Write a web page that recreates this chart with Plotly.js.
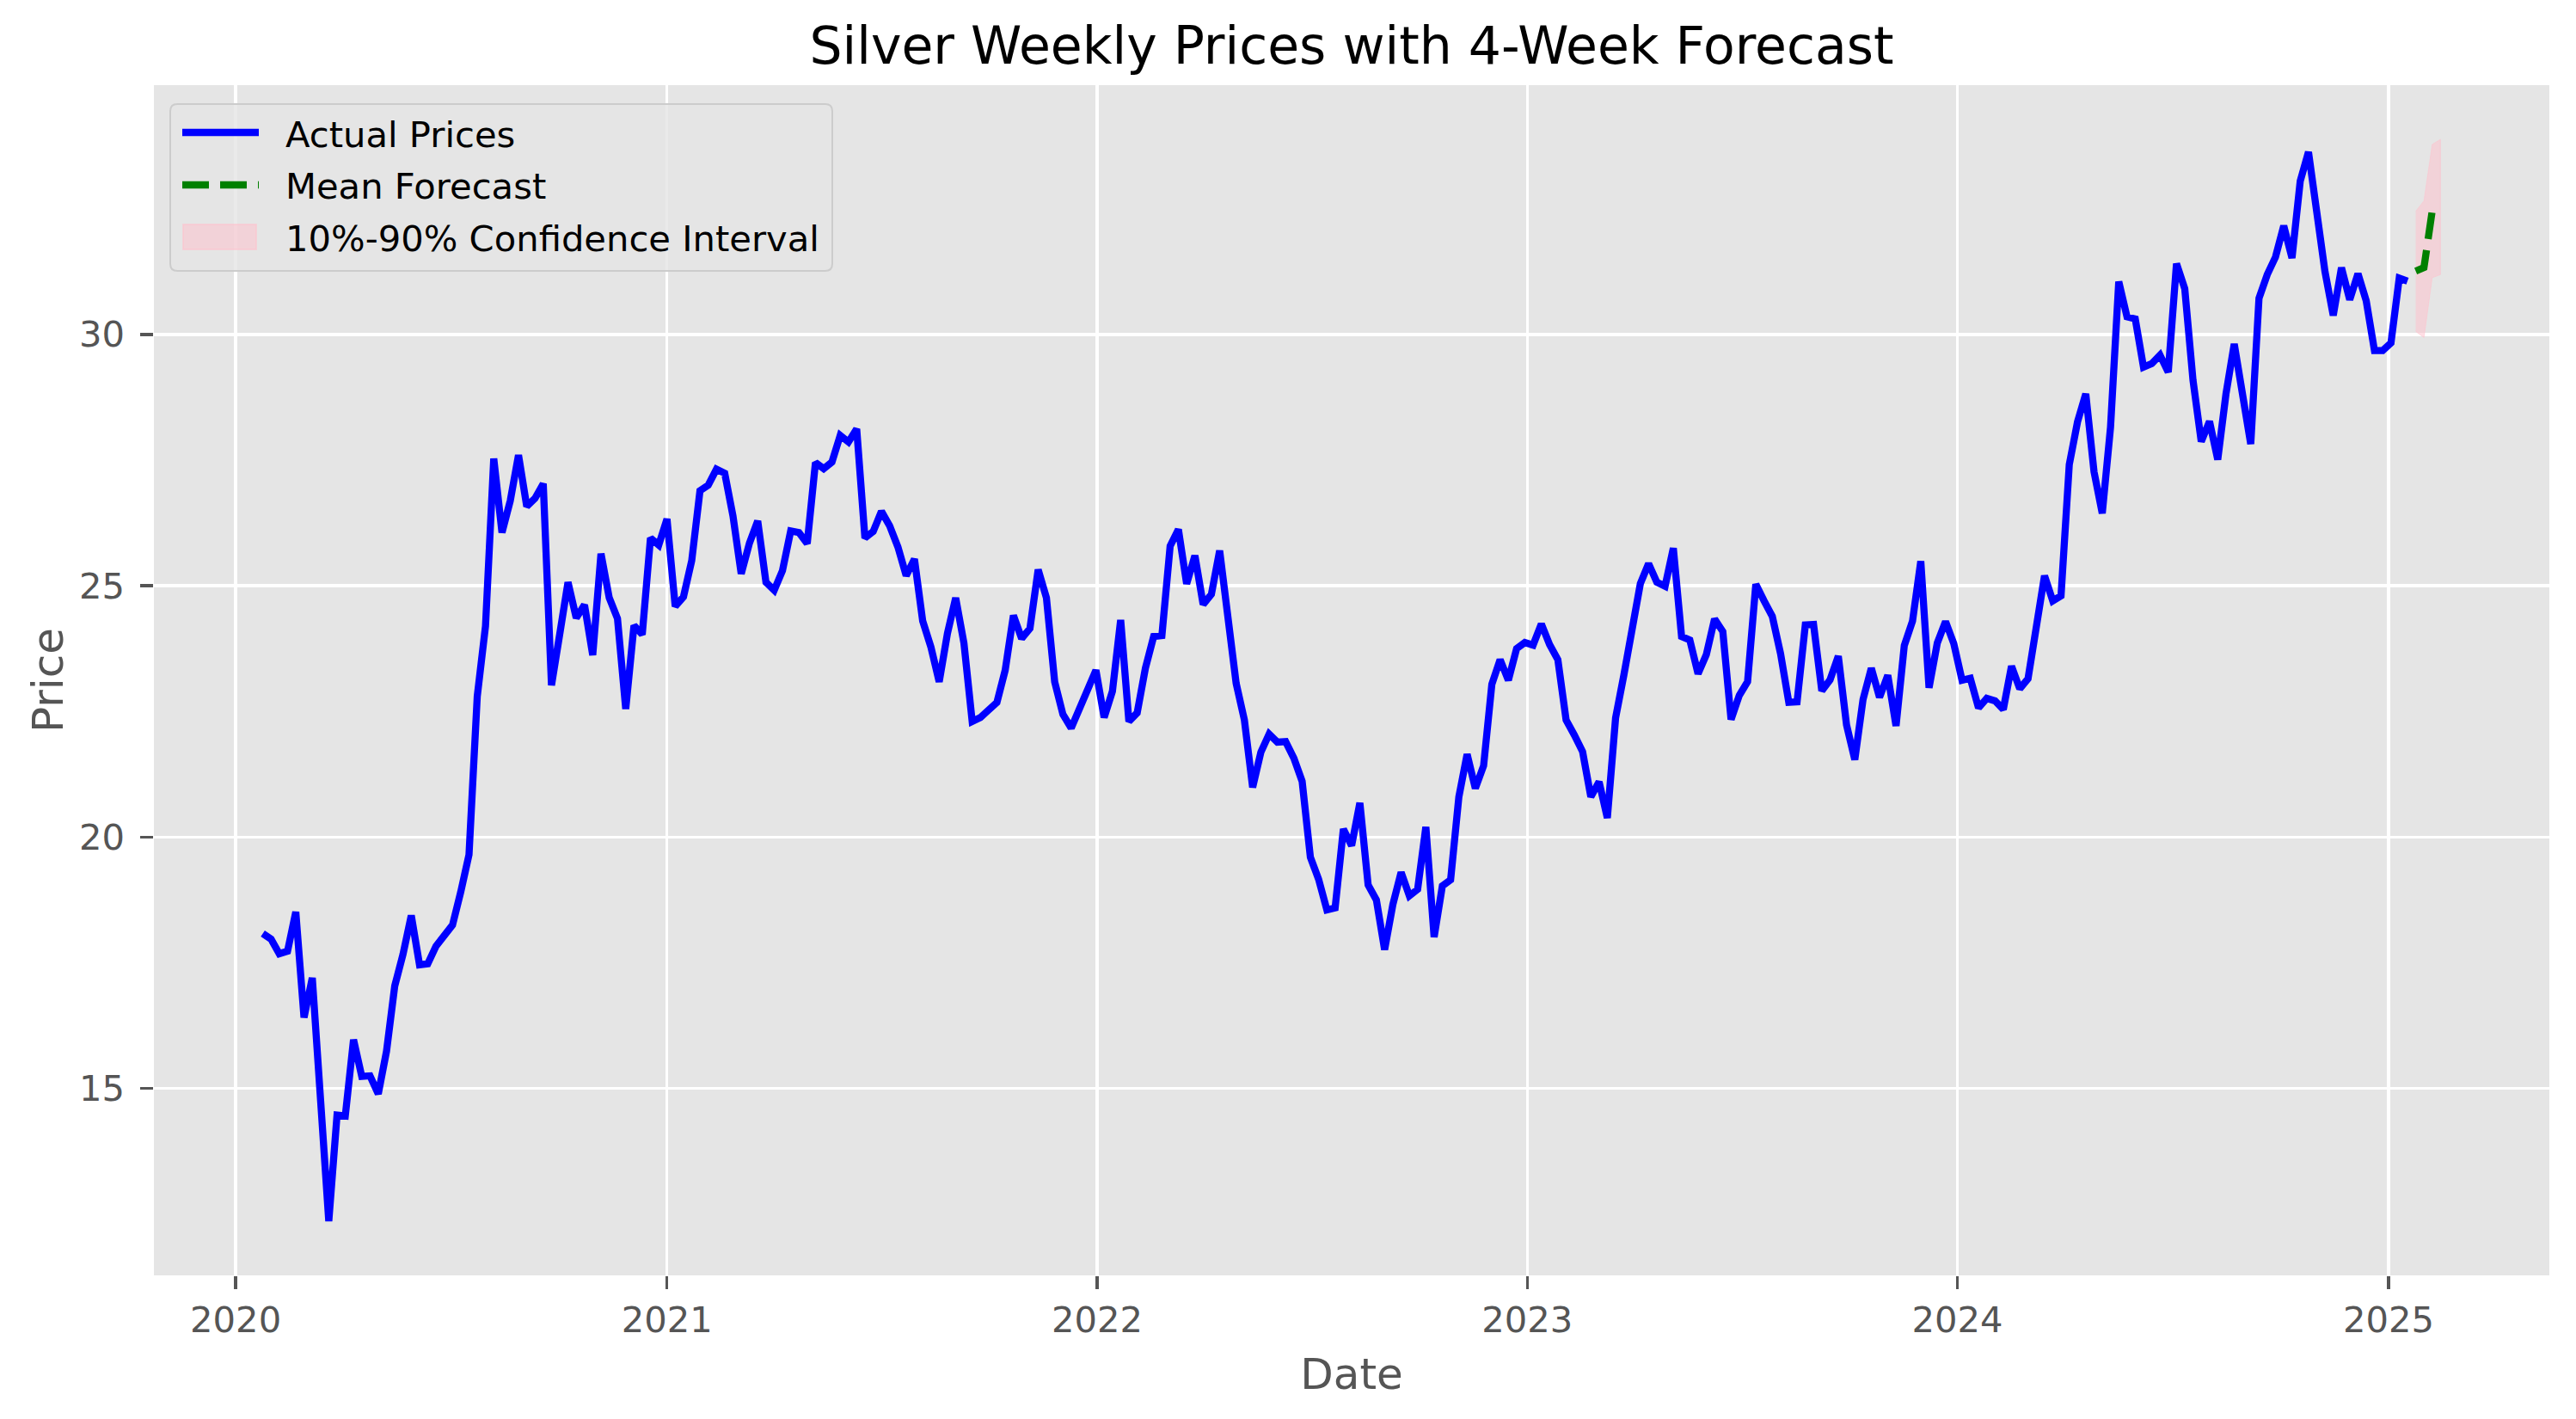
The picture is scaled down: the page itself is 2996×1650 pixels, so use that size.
<!DOCTYPE html>
<html>
<head>
<meta charset="utf-8">
<script src="https://cdn.plot.ly/plotly-3.0.1.min.js"></script>
<style>html,body{margin:0;padding:0;background:#fff;}#chart{width:2996px;height:1650px;}</style>
</head>
<body>
<div id="chart"></div>
<script>
// ---- data ----
const firstWeek = "2020-01-24"; // first weekly observation (Fridays)
const actualPrices = [
18.08,17.97,17.68,17.73,18.51,16.41,17.20,14.50,12.36,14.47,
14.45,15.97,15.24,15.25,14.89,15.74,17.04,17.67,18.44,17.46,
17.48,17.83,18.03,18.25,18.91,19.65,22.80,24.20,27.53,26.06,
26.69,27.60,26.58,26.74,27.03,23.02,24.04,25.07,24.36,24.62,
23.62,25.64,24.76,24.35,22.55,24.21,24.03,25.95,25.81,26.33,
24.59,24.78,25.50,26.89,27.00,27.32,27.24,26.39,25.24,25.85,
26.29,25.07,24.91,25.30,26.09,26.06,25.84,27.45,27.33,27.46,
27.99,27.86,28.12,25.95,26.08,26.48,26.19,25.77,25.20,25.53,
24.30,23.78,23.09,24.05,24.76,23.86,22.30,22.38,22.53,22.68,
23.32,24.41,23.95,24.15,25.32,24.76,23.09,22.44,22.17,22.55,
22.95,23.32,22.38,22.90,24.32,22.30,22.47,23.36,23.99,24.01,
25.79,26.12,25.04,25.60,24.63,24.83,25.70,24.25,23.06,22.33,
20.99,21.69,22.05,21.89,21.90,21.57,21.11,19.60,19.16,18.55,
18.59,20.16,19.83,20.68,19.05,18.75,17.76,18.66,19.30,18.83,
18.96,20.20,18.01,19.03,19.15,20.80,21.65,20.97,21.42,23.04,
23.53,23.12,23.75,23.87,23.82,24.24,23.83,23.53,22.33,22.03,
21.70,20.80,21.10,20.38,22.37,23.22,24.16,25.04,25.44,25.07,
24.99,25.75,23.99,23.92,23.25,23.63,24.34,24.09,22.34,22.82,
23.09,25.03,24.70,24.39,23.65,22.68,22.69,24.22,24.23,22.91,
23.13,23.60,22.23,21.54,22.74,23.36,22.78,23.22,22.21,23.81,
24.30,25.49,22.97,23.86,24.29,23.85,23.12,23.16,22.57,22.76,
22.71,22.54,23.40,22.95,23.15,24.30,25.20,24.70,24.80,27.41,
28.26,28.82,27.27,26.44,28.15,31.05,30.35,30.31,29.35,29.42,
29.59,29.25,31.41,30.91,29.09,27.87,28.27,27.51,28.82,29.81,
28.82,27.82,30.72,31.19,31.54,32.16,31.52,33.05,33.63,32.35,
31.25,30.38,31.33,30.69,31.21,30.67,29.68,29.68,29.83,31.12,
31.06
];
const forecastDates = ["2025-01-24","2025-01-31","2025-02-07","2025-02-14"];
const forecastMean  = [31.26, 31.33, 32.46, 32.54];
const forecastLow   = [30.06, 29.94, 31.13, 31.19];
const forecastHigh  = [32.45, 32.66, 33.78, 33.88];
const xTickVals  = ["2020-01-01","2021-01-01","2022-01-01","2023-01-01","2024-01-01","2025-01-01"];
const xTickText  = ["2020","2021","2022","2023","2024","2025"];
const yTickVals  = [15, 20, 25, 30];
const titleText  = "Silver Weekly Prices with 4-Week Forecast";
const legendLabels = ["Actual Prices", "Mean Forecast", "10%-90% Confidence Interval"];

// weekly date axis for the actual series
function weeklyDates(start, n) {
  const out = [];
  const d0 = new Date(start + "T00:00:00Z");
  for (let i = 0; i < n; i++) {
    const d = new Date(d0.getTime() + i * 7 * 86400000);
    out.push(d.toISOString().slice(0, 10));
  }
  return out;
}
const actualDates = weeklyDates(firstWeek, actualPrices.length);

const FONT = "DejaVu Sans, Liberation Sans, sans-serif";
const BLUE = "#0000FF", GREEN = "#008000", PINK = "rgba(255,192,203,0.5)";
const LW = 8.3, DASH = "31px,13px";

const traces = [
  {
    x: actualDates, y: actualPrices, type: "scatter", mode: "lines",
    name: legendLabels[0], showlegend: false,
    line: {color: BLUE, width: LW}
  },
  {
    x: forecastDates.concat(forecastDates.slice().reverse()),
    y: forecastHigh.concat(forecastLow.slice().reverse()),
    type: "scatter", mode: "lines", fill: "toself",
    fillcolor: PINK, line: {color: PINK, width: 1},
    name: legendLabels[2], showlegend: false
  },
  {
    x: forecastDates, y: forecastMean, type: "scatter", mode: "lines",
    name: legendLabels[1], showlegend: false,
    line: {color: GREEN, width: LW, dash: DASH}
  }
];

// ---- legend (drawn in paper coordinates, like matplotlib's upper-left legend) ----
const PL = 179, PR = 2965, PT = 99, PB = 1483;
const px = X => (X - PL) / (PR - PL);
const py = Y => 1 - (Y - PT) / (PB - PT);
function roundRect(x0, y0, x1, y1, r) {
  const rx = r / (PR - PL), ry = r / (PB - PT);
  const a = px(x0), b = px(x1), t = py(y0), u = py(y1);
  return `M${a+rx},${t} L${b-rx},${t} Q${b},${t} ${b},${t-ry} L${b},${u+ry} Q${b},${u} ${b-rx},${u} ` +
         `L${a+rx},${u} Q${a},${u} ${a},${u+ry} L${a},${t-ry} Q${a},${t} ${a+rx},${t} Z`;
}
const rowY = [154, 215, 275.5];
const shapes = [
  {type: "path", xref: "paper", yref: "paper", path: roundRect(198, 121, 968, 315, 8.3),
   fillcolor: "rgba(229,229,229,0.8)", line: {color: "#CCCCCC", width: 2}, layer: "above"},
  {type: "line", xref: "paper", yref: "paper", x0: px(212), x1: px(301), y0: py(rowY[0]), y1: py(rowY[0]),
   line: {color: BLUE, width: LW}, layer: "above"},
  {type: "line", xref: "paper", yref: "paper", x0: px(212), x1: px(301), y0: py(rowY[1]), y1: py(rowY[1]),
   line: {color: GREEN, width: LW, dash: DASH}, layer: "above"},
  {type: "rect", xref: "paper", yref: "paper", x0: px(213), x1: px(298), y0: py(261), y1: py(290),
   fillcolor: PINK, line: {color: PINK, width: 2}, layer: "above"}
];
const annotations = legendLabels.map((t, i) => ({
  text: t, xref: "paper", yref: "paper", x: px(330), y: py(rowY[i] + 2),
  xanchor: "left", yanchor: "middle", showarrow: false,
  font: {family: FONT, size: 41.7, color: "#000000"}
}));

const layout = {
  width: 2996, height: 1650,
  paper_bgcolor: "#FFFFFF",
  plot_bgcolor: "#E5E5E5",
  margin: {l: PL, r: 2996 - PR, t: PT, b: 1650 - PB, pad: 0},
  font: {family: FONT, size: 41.7, color: "#555555"},
  showlegend: false,
  title: {
    text: titleText,
    font: {family: FONT, size: 60, color: "#000000"},
    x: 0.5, xref: "paper", xanchor: "center",
    y: 1 - 53/1650, yref: "container", yanchor: "middle"
  },
  xaxis: {
    type: "date",
    range: ["2019-10-23 14:24", "2025-05-17 09:36"],
    tickmode: "array", tickvals: xTickVals, ticktext: xTickText,
    showgrid: true, gridcolor: "#FFFFFF", gridwidth: 3.3,
    zeroline: false, showline: false,
    ticks: "outside", ticklen: 14.6, tickwidth: 3.3, tickcolor: "#555555",
    ticklabelstandoff: 0,
    tickfont: {family: FONT, size: 41.7, color: "#555555"},
    title: {text: "Date", font: {family: FONT, size: 50, color: "#555555"}, standoff: 22}
  },
  yaxis: {
    range: [11.28, 34.96],
    tickmode: "array", tickvals: yTickVals,
    showgrid: true, gridcolor: "#FFFFFF", gridwidth: 3.3,
    zeroline: false, showline: false,
    ticks: "outside", ticklen: 14.6, tickwidth: 3.3, tickcolor: "#555555",
    ticklabelstandoff: 10,
    tickfont: {family: FONT, size: 41.7, color: "#555555"},
    title: {text: "Price", font: {family: FONT, size: 50, color: "#555555"}, standoff: 2}
  },
  shapes: shapes,
  annotations: annotations
};

Plotly.newPlot("chart", traces, layout, {displayModeBar: false, staticPlot: true});
</script>
</body>
</html>
